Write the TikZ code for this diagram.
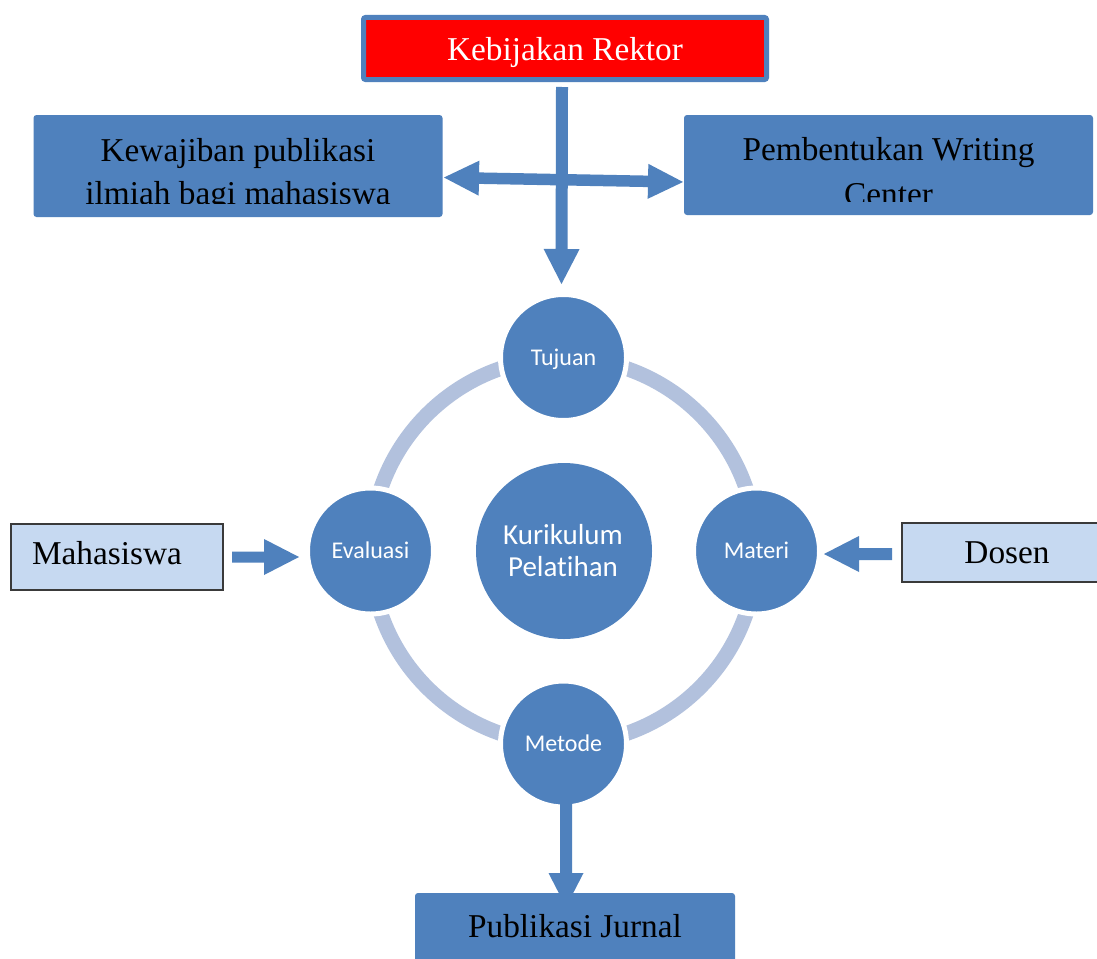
\documentclass[tikz,border=0pt]{standalone}
\usepackage{fontspec}
\setmainfont{Liberation Serif}
\newfontfamily\calfont[Ligatures=NoCommon]{Carlito}
\usetikzlibrary{calc}
\definecolor{mblue}{HTML}{4F81BD}
\definecolor{ringc}{HTML}{B2C1DD}
\definecolor{lightbox}{HTML}{C6D9F1}
\definecolor{boxedge}{HTML}{3A3A3A}
\definecolor{rektorred}{HTML}{FF0000}
\newcommand{\blockarrow}[5]{%
  \coordinate (ba-h) at ($(#2)!#5!(#1)$);
  \fill[mblue] ($(#1)!#3!90:(#2)$) -- ($(ba-h)!#3!-90:(#1)$) -- ($(ba-h)!#4!-90:(#1)$) -- (#2)
    -- ($(ba-h)!#4!90:(#1)$) -- ($(ba-h)!#3!90:(#1)$) -- ($(#1)!#3!-90:(#2)$) -- cycle;}
\newcommand{\dblockarrow}[5]{%
  \coordinate (da-a) at ($(#1)!#5!(#2)$);
  \coordinate (da-b) at ($(#2)!#5!(#1)$);
  \fill[mblue] (#1) -- ($(da-a)!#4!90:(#2)$) -- ($(da-a)!#3!90:(#2)$) -- ($(da-b)!#3!-90:(#1)$)
    -- ($(da-b)!#4!-90:(#1)$) -- (#2) -- ($(da-b)!#4!90:(#1)$) -- ($(da-b)!#3!90:(#1)$)
    -- ($(da-a)!#3!-90:(#2)$) -- ($(da-a)!#4!-90:(#2)$) -- cycle;}
\tikzset{
  bigserif/.style={font=\fontsize{33.3}{40}\selectfont, anchor=base, inner sep=0pt},
  bluebox/.style={rectangle, fill=mblue, rounded corners=3pt, inner sep=0pt},
  lightrect/.style={rectangle, fill=lightbox, draw=boxedge, line width=1.5pt, inner sep=0pt},
  smallc/.style={circle, fill=mblue, draw=white, line width=5pt, minimum size=126pt, inner sep=0pt,
    text=white, font=\calfont\fontsize{24}{28}\selectfont, text height=15.5pt, text depth=0pt},
  bigc/.style={circle, fill=mblue, minimum size=176pt, inner sep=0pt},
  kurtext/.style={text=white, font=\calfont\fontsize{29}{32}\selectfont, anchor=base, inner sep=0pt}
}
\begin{document}
\begin{tikzpicture}[x=1pt,y=-1pt]
\clip (0,0) rectangle (1097,958);
\fill[white] (0,0) rectangle (1097,958);

% ring and circles
\coordinate (rc) at (563.5,551);
\draw[ringc, line width=15pt] (rc) circle[radius=193pt];
\node[bigc] (kur) at (564,551) {};
\node[kurtext] (kur1) at (563,544) {Kurikulum};
\node[kurtext] (kur2) at (563,576) {Pelatihan};
\node[smallc] (tuj) at (563.5,357.5) {Tujuan};
\node[smallc] (eva) at (370.5,551) {Evaluasi};
\node[smallc] (mat) at (756.5,551) {Materi};
\node[smallc] (met) at (563.5,744) {Metode};

% top boxes
\node[rectangle, fill=rektorred, draw=mblue, line width=5pt, rounded corners=2pt,
  minimum width=403pt, minimum height=62pt, inner sep=0pt] (rek) at (565,48.5) {};
\node[bigserif, text=white] (rektxt) at (565,60) {Kebijakan Rektor};

\node[bluebox, minimum width=409pt, minimum height=102pt] (kew) at (238,166) {};
\begin{scope}
  \clip (34,115) rectangle (442,203);
  \node[bigserif] (kew1) at (238,161) {Kewajiban publikasi};
  \node[bigserif] (kew2) at (238,204) {ilmiah bagi mahasiswa};
\end{scope}

\node[bluebox, minimum width=409pt, minimum height=100pt] (pem) at (888.5,165) {};
\begin{scope}
  \clip (684,115) rectangle (1093,201);
  \node[bigserif] (pem1) at (888.5,160) {Pembentukan Writing};
  \node[bigserif] (pem2) at (888.5,205) {Center};
\end{scope}

% side boxes
\node[lightrect, minimum width=212pt, minimum height=66pt] (mah) at (117,557) {};
\node[bigserif] (mahtxt) at (107,564) {Mahasiswa};
\node[lightrect, minimum width=208pt, minimum height=59pt] (dos) at (1006,552.5) {};
\node[bigserif] (dostxt) at (1007,563) {Dosen};

% bottom box
\node[bluebox, minimum width=320pt, minimum height=96pt] (pub) at (575,941) {};
\node[bigserif] (pubtxt) at (575,937) {Publikasi Jurnal};

% arrows
\coordinate (hl) at (444,177.5);
\coordinate (hr) at (683,182);
\dblockarrow{hl}{hr}{5.75pt}{17.5pt}{35pt}
\coordinate (vs) at (562,87);
\coordinate (ve) at (561.5,284);
\blockarrow{vs}{ve}{6pt}{18pt}{35pt}
\coordinate (ma1) at (232,557);
\coordinate (ma2) at (299,557);
\blockarrow{ma1}{ma2}{5.5pt}{18pt}{35pt}
\coordinate (do1) at (892,554);
\coordinate (do2) at (824,554);
\blockarrow{do1}{do2}{6pt}{18pt}{35pt}
\coordinate (mt1) at (566,790);
\coordinate (mt2) at (566,907);
\blockarrow{mt1}{mt2}{6pt}{17.5pt}{34pt}
\end{tikzpicture}
\end{document}
